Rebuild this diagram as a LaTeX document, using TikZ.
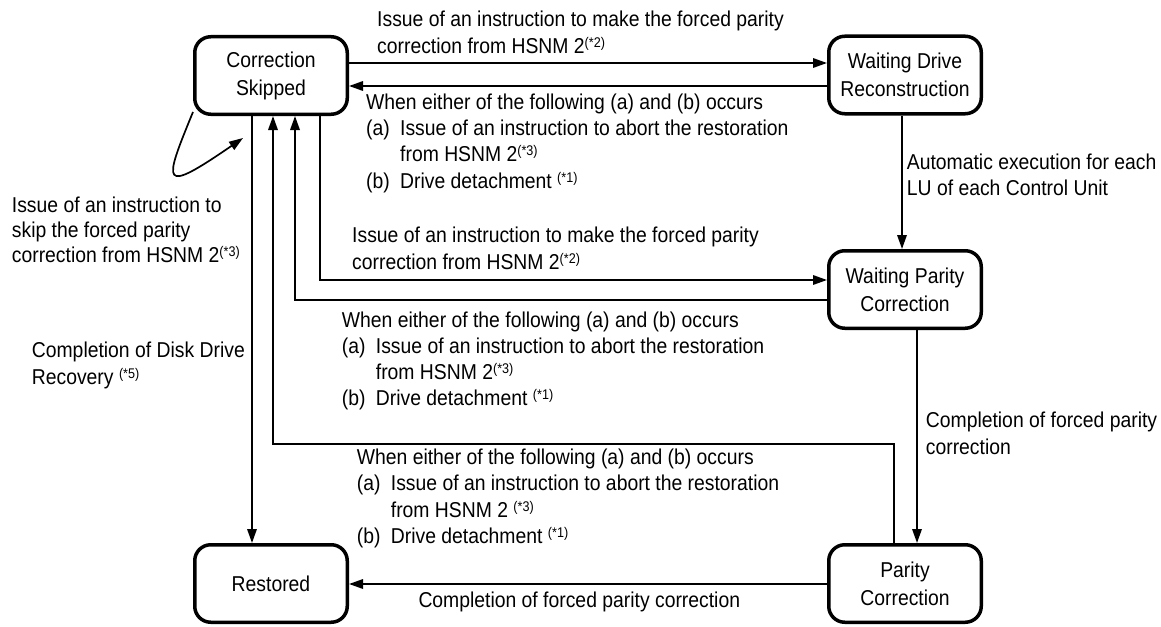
\documentclass[tikz,border=0pt]{standalone}
\usepackage{fontspec}
\setmainfont{Liberation Sans}[FakeStretch=0.9]
\usetikzlibrary{arrows.meta}
\newcommand\fnote[1]{\raisebox{6pt}{\fontsize{14}{14}\selectfont(*#1)}}
\begin{document}
\begin{tikzpicture}[x=1pt,y=-1pt,
  state/.style={draw,line width=3.5pt,rounded corners=16pt,minimum width=152.5pt,minimum height=77.5pt,align=center,font=\fontsize{21.5}{28}\selectfont,inner sep=0pt},
  lbl/.style={anchor=north west,inner sep=0pt,align=left,font=\fontsize{21.5}{26.3}\selectfont},
  arr/.style={line width=1.7pt,-{Triangle[length=14pt,width=9.5pt]}}]
\useasboundingbox (0,0) rectangle (1161,626);

\node[state] (cs) at (271,75.5) {Correction\\Skipped};
\node[state] (wdr) at (905,75) {Waiting Drive\\Reconstruction};
\node[state] (wpc) at (905,289.5) {Waiting Parity\\Correction};
\node[state] (pc) at (905,583.5) {Parity\\Correction};
\node[state] (rs) at (271,583.5) {Restored};

\draw[arr] (cs.east |- 0,63) -- (wdr.west |- 0,63);
\draw[arr] (wdr.west |- 0,86) -- (cs.east |- 0,86);
\draw[arr] (cs.south -| 252,0) -- (rs.north -| 252,0);
\draw[arr] (pc.north -| 894,0) |- (273,444) -- (cs.south -| 273,0);
\draw[arr] (wpc.west |- 0,300) -| (cs.south -| 295,0);
\draw[arr] (cs.south -| 320,0) |- (wpc.west |- 0,280);
\draw[arr] (wdr.south -| 902,0) -- (wpc.north -| 902,0);
\draw[arr] (wpc.south -| 917,0) -- (pc.north -| 917,0);
\draw[arr] (pc.west |- 0,584) -- (rs.east |- 0,584);
\coordinate (loopend) at (243,138);
\draw[arr] ([yshift=4pt]cs.south west) .. controls (163,185) and (160,195) .. (loopend);

\node[lbl] (t1) at (377,8.1) {\strut Issue of an instruction to make the forced parity\\correction from HSNM 2\fnote{2}};
\node[lbl] (t2) at (366,90.6) {\strut When either of the following (a) and (b) occurs\\\makebox[34pt][l]{(a)}Issue of an instruction to abort the restoration\\\hspace*{34pt}from HSNM 2\fnote{3}\\\makebox[34pt][l]{(b)}Drive detachment \fnote{1}};
\node[lbl] (t3) at (352,224.1) {\strut Issue of an instruction to make the forced parity\\correction from HSNM 2\fnote{2}};
\node[lbl] (t4) at (341.7,308.4) {\strut When either of the following (a) and (b) occurs\\\makebox[34pt][l]{(a)}Issue of an instruction to abort the restoration\\\hspace*{34pt}from HSNM 2\fnote{3}\\\makebox[34pt][l]{(b)}Drive detachment \fnote{1}};
\node[lbl] (t5) at (356.7,445.8) {\strut When either of the following (a) and (b) occurs\\\makebox[34pt][l]{(a)}Issue of an instruction to abort the restoration\\\hspace*{34pt}from HSNM 2 \fnote{3}\\\makebox[34pt][l]{(b)}Drive detachment \fnote{1}};
\node[lbl] (t6) at (418.3,589.1) {\strut Completion of forced parity correction};
\node[lbl] (t7) at (906.7,150.8) {\strut Automatic execution for each\\LU of each Control Unit};
\node[lbl] (t8) at (925.7,409.1) {\strut Completion of forced parity\\correction};
\node[lbl,font=\fontsize{21.5}{25}\selectfont] (t9) at (11.7,195) {\strut Issue of an instruction to\\skip the forced parity\\correction from HSNM 2\fnote{3}};
\node[lbl] (t10) at (31.7,339.1) {\strut Completion of Disk Drive\\Recovery \fnote{5}};
\end{tikzpicture}
\end{document}
